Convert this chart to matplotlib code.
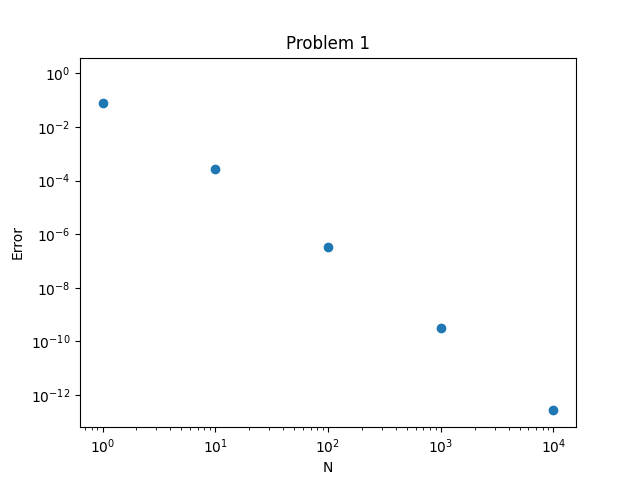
import matplotlib
matplotlib.use("Agg")
import matplotlib.pyplot as plt

# N values and the error
N = [1, 10, 100, 1000, 10000]
error = [7.8e-2, 2.6e-4, 3.2e-7, 3.2e-10, 2.85e-13]

fig = plt.figure(figsize=(6.4, 4.8), dpi=100)
plt.scatter(N, error)
plt.xscale('log')
plt.yscale('log')
plt.ylim(10**-13.2, 10**0.59)
plt.xlabel('N')
plt.ylabel('Error')
plt.title('Problem 1')
plt.savefig('out.png')
